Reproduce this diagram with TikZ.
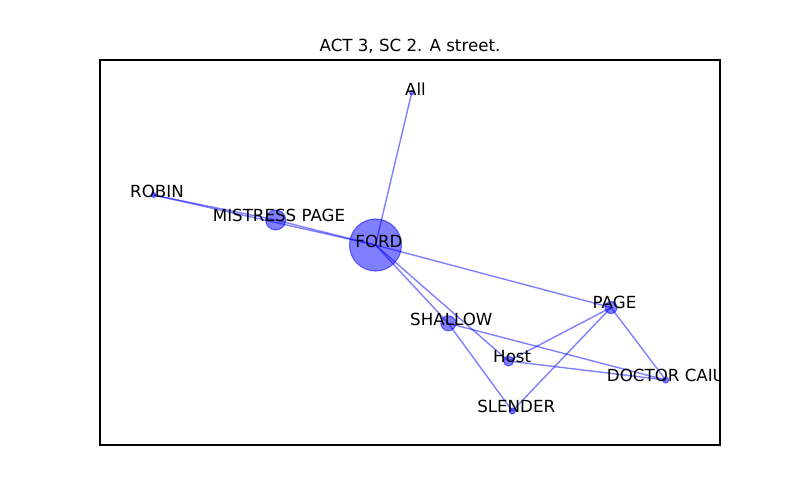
\documentclass[tikz,border=0pt]{standalone}
\usepackage{fontspec}
\setmainfont{DejaVu Sans}
\usetikzlibrary{backgrounds}
\begin{document}
\begin{tikzpicture}[x=0.01in,y=-0.01in,
  vertex/.style={circle,inner sep=0pt,fill=blue,draw=blue,fill opacity=0.5,draw opacity=0.5,line width=0.8bp},
  link/.style={draw=blue,draw opacity=0.5,line width=1bp},
  lab/.style={anchor=base,inner sep=0pt,font=\fontsize{12bp}{14bp}\selectfont,text=black},
  frame/.style={draw=black,line width=0.8bp}]
\useasboundingbox (0,0) rectangle (800,500);
% axes frame
\draw[frame] (100,60) rectangle (720,445);
\node[lab] (title) at (410,51.7) {ACT 3, SC 2. A street.};
% vertices
\node[vertex,minimum size=2.88bp] (all) at (411.7,92.7) {};
\node[vertex,minimum size=3.6bp] (robin) at (153.5,195) {};
\node[vertex,minimum size=14.4bp] (mpage) at (275.7,220) {};
\node[vertex,minimum size=37.44bp] (ford) at (375.5,245) {};
\node[vertex,minimum size=8.64bp] (page) at (611,307.5) {};
\node[vertex,minimum size=10.8bp] (shallow) at (448.3,323.3) {};
\node[vertex,minimum size=7.2bp] (host) at (508.5,361) {};
\node[vertex,minimum size=4.32bp] (caius) at (665.7,380) {};
\node[vertex,minimum size=4.32bp] (slender) at (512.3,411) {};
% edges
\begin{scope}[on background layer]
\draw[link] (ford.center) -- (all.center);
\draw[link] (ford.center) -- (robin.center);
\draw[link] (ford.center) -- (mpage.center);
\draw[link] (robin.center) -- (mpage.center);
\draw[link] (ford.center) -- (page.center);
\draw[link] (ford.center) -- (shallow.center);
\draw[link] (ford.center) -- (host.center);
\draw[link] (shallow.center) -- (slender.center);
\draw[link] (shallow.center) -- (caius.center);
\draw[link] (page.center) -- (host.center);
\draw[link] (page.center) -- (slender.center);
\draw[link] (page.center) -- (caius.center);
\draw[link] (host.center) -- (caius.center);
\end{scope}
% labels
\begin{scope}
\clip (100,60) rectangle (720,445);
\node[lab] (lall) at (415.5,95) {All};
\node[lab] (lrobin) at (157,197) {ROBIN};
\node[lab] (lmpage) at (279,221) {MISTRESS PAGE};
\node[lab] (lford) at (379,247) {FORD};
\node[lab] (lpage) at (614.5,308) {PAGE};
\node[lab] (lshallow) at (451.3,325) {SHALLOW};
\node[lab] (lhost) at (512.2,362.7) {Host};
\node[lab,anchor=base west] (lcaius) at (606.7,381.7) {DOCTOR CAIUS};
\node[lab] (lslender) at (516.2,412.7) {SLENDER};
\end{scope}
\end{tikzpicture}
\end{document}
